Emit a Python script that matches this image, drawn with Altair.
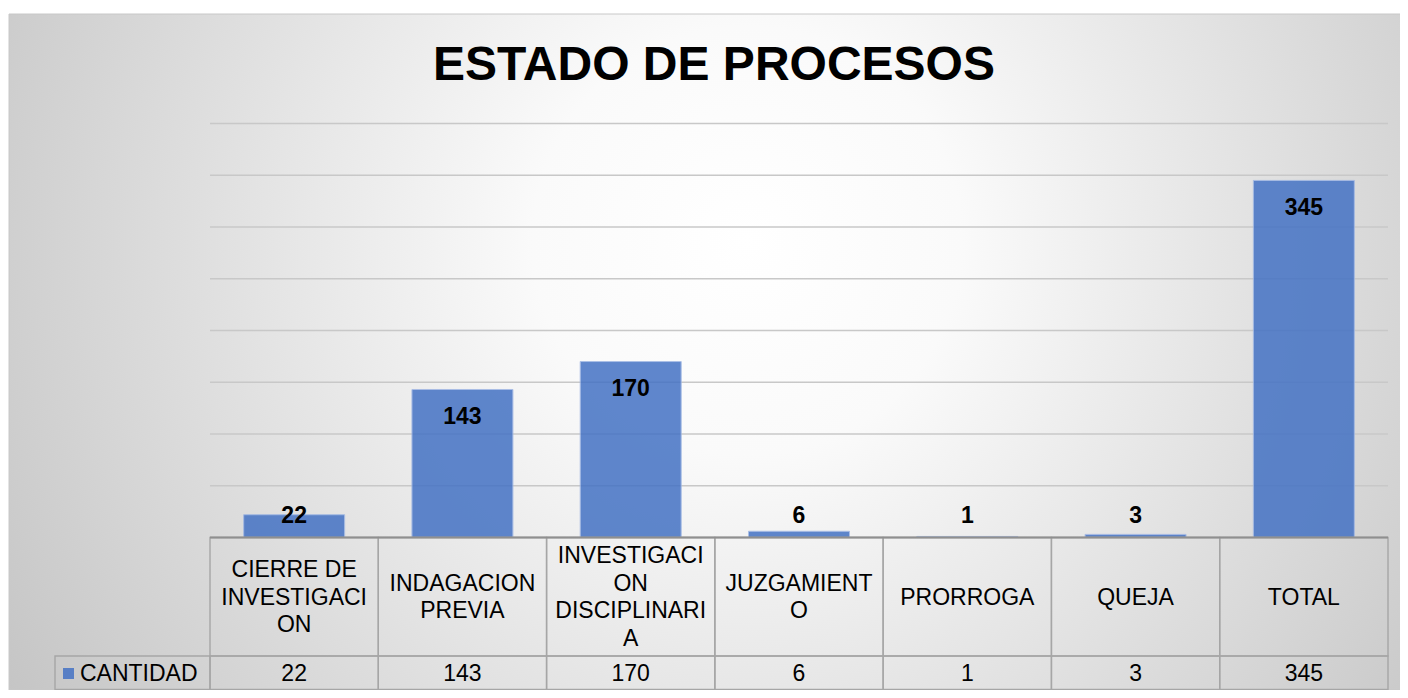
import altair as alt
import pandas as pd

# ---------------- data ----------------
titulo = "ESTADO DE PROCESOS"
serie = "CANTIDAD"
categorias = [
    "CIERRE DE INVESTIGACION",
    "INDAGACION PREVIA",
    "INVESTIGACION DISCIPLINARIA",
    "JUZGAMIENTO",
    "PRORROGA",
    "QUEJA",
    "TOTAL",
]
etiquetas = [
    "CIERRE DE\nINVESTIGACI\nON",
    "INDAGACION\nPREVIA",
    "INVESTIGACI\nON\nDISCIPLINARI\nA",
    "JUZGAMIENT\nO",
    "PRORROGA",
    "QUEJA",
    "TOTAL",
]
cantidad = [22, 143, 170, 6, 1, 3, 345]
y_ticks = [0, 50, 100, 150, 200, 250, 300, 350, 400]

df = pd.DataFrame({"categoria": categorias, "etiqueta": etiquetas, "cantidad": cantidad})
df["lineas"] = [e.count("\n") + 1 for e in etiquetas]
df_ticks = pd.DataFrame({"tick": y_ticks})
one = pd.DataFrame({"k": [0]})

# ---------------- layout (pixels) ----------------
W, H = 1178, 414
YMAX = 400
PAD = {"left": 202, "top": 115.5, "right": 12, "bottom": 152.5}
STEP = W / len(categorias)
FONT = "Liberation Sans"
BLUE = "#4472C4"
GRID = "#c8c8c8"
BORDER = "#a6a6a6"
LH = 27.5        # line height of the table header text
HEAD_MID = 474   # vertical centre of the header row (pixels from plot top)

xs = alt.X("categoria:N", sort=categorias, axis=None,
           scale=alt.Scale(paddingInner=0.4, paddingOuter=0.2))
ys = alt.Scale(domain=[0, YMAX], nice=False, zero=True)

bg = alt.Chart(one).mark_rect(
    color=alt.Gradient(
        gradient="radial",
        stops=[alt.GradientStop(color="#ffffff", offset=0),
               alt.GradientStop(color="#fafafa", offset=0.22),
               alt.GradientStop(color="#bcbcbc", offset=1)],
        x1=0.53, y1=0.42, x2=0.53, y2=0.42, r1=0, r2=0.7),
    stroke="#c8c8c8", strokeWidth=1,
).encode(x=alt.value(-201), x2=alt.value(1192), y=alt.value(-109.5), y2=alt.value(566.5))

title = alt.Chart(one).mark_text(
    text=titulo, font=FONT, fontSize=48, fontWeight="bold", color="#000000",
    align="center", baseline="middle",
).encode(x=alt.value(504), y=alt.value(-58))

grid = alt.Chart(df_ticks).mark_rule(color=GRID, strokeWidth=1.4).encode(
    y=alt.Y("tick:Q", scale=ys, axis=None), x=alt.value(0), x2=alt.value(W))

bars = alt.Chart(df).mark_bar(color=BLUE, opacity=0.85, stroke="#9db5e3", strokeWidth=1).encode(
    x=xs, y=alt.Y("cantidad:Q", scale=ys, axis=None))

labels = alt.Chart(df).transform_calculate(
    pos="max(datum.cantidad - 26.5, 21)"
).mark_text(font=FONT, fontSize=23, fontWeight="bold", color="#000000",
            align="center", baseline="middle").encode(
    x=xs, y=alt.Y("pos:Q", scale=ys, axis=None), text="cantidad:Q")

head_cells = alt.Chart(df).mark_bar(filled=False, stroke=BORDER, strokeWidth=1.4, width=STEP).encode(
    x=xs, y=alt.value(H), y2=alt.value(532.5))
val_cells = alt.Chart(df).mark_bar(filled=False, stroke=BORDER, strokeWidth=1.4, width=STEP).encode(
    x=xs, y=alt.value(532.5), y2=alt.value(566))
legend_cell = alt.Chart(one).mark_rect(filled=False, stroke=BORDER, strokeWidth=1.4).encode(
    x=alt.value(-155), x2=alt.value(0), y=alt.value(532.5), y2=alt.value(566))
baseline = alt.Chart(one).mark_rule(color="#8f8f8f", strokeWidth=2.2).encode(
    x=alt.value(0), x2=alt.value(W), y=alt.value(H))

# multi-line header labels: first line placed so the block is centred in the row
head_text = alt.Chart(df).transform_calculate(
    py=f"{HEAD_MID} - (datum.lineas - 1) * {LH / 2}",
    yv=f"({H} - datum.py) * {YMAX} / {H}",
).mark_text(font=FONT, fontSize=23, color="#000000", lineBreak="\n",
            lineHeight=LH, align="center", baseline="middle").encode(
    x=xs, y=alt.Y("yv:Q", scale=ys, axis=None), text="etiqueta:N")
val_text = alt.Chart(df).mark_text(font=FONT, fontSize=23, color="#000000",
                                   align="center", baseline="middle").encode(
    x=xs, y=alt.value(550), text="cantidad:Q")

leg_sym = alt.Chart(one).mark_square(color=BLUE, opacity=0.85, size=121).encode(
    x=alt.value(-141.5), y=alt.value(550))
leg_text = alt.Chart(one).mark_text(text=serie, font=FONT, fontSize=23, color="#000000",
                                    align="left", baseline="middle").encode(
    x=alt.value(-130), y=alt.value(550))

chart = alt.layer(
    bg, title, grid, bars, labels, head_cells, val_cells, legend_cell, baseline,
    head_text, val_text, leg_sym, leg_text,
).properties(
    width=W, height=H,
    autosize=alt.AutoSizeParams(type="none"),
    padding=PAD,
    background="#ffffff",
).configure_view(stroke=None)

chart.save("out.html", embed_options={"renderer": "svg", "actions": False})
